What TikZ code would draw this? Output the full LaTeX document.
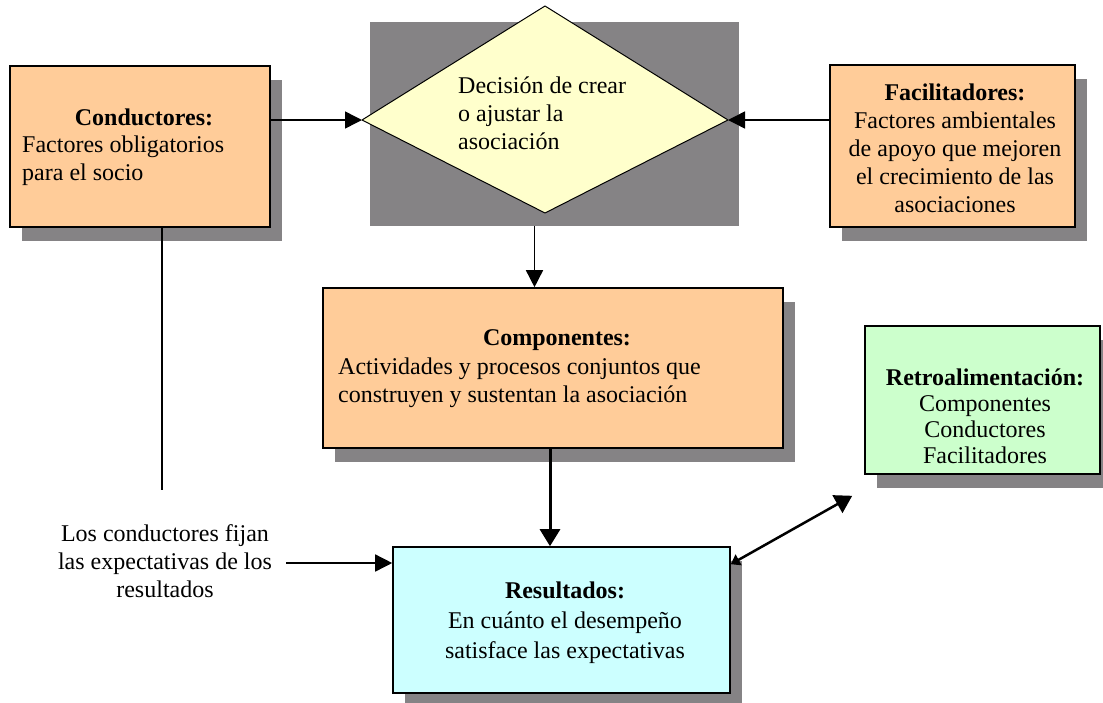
\documentclass[tikz,border=0pt]{standalone}
\usepackage{fontspec}
\setmainfont{Liberation Serif}
\usetikzlibrary{arrows.meta,shadows,calc}
\definecolor{orangebox}{HTML}{FFCC99}
\definecolor{yellowbox}{HTML}{FFFFCC}
\definecolor{cyanbox}{HTML}{CCFFFF}
\definecolor{greenbox}{HTML}{CCFFCC}
\definecolor{shadowgray}{HTML}{858385}
\tikzset{
  box/.style={draw=black, line width=1.6pt, rectangle, inner sep=0pt,
    general shadow={fill=shadowgray, shadow xshift=12pt, shadow yshift=-14pt}},
  txt/.style={inner sep=0pt, font=\fontsize{24}{28}\selectfont},
  arr/.style={line width=1.5pt, -{Triangle[length=17pt,width=17pt]}},
  thickarr/.style={line width=3pt, -{Triangle[length=17pt,width=20pt]}},
  dblarr/.style={line width=2.5pt, {Triangle[length=9pt,width=12pt]}-{Triangle[length=17pt,width=20pt]}},
}
\begin{document}
\begin{tikzpicture}[x=1pt,y=-1pt]
\useasboundingbox (0,0) rectangle (1103,702);
% gray background of decision
\node[fill=shadowgray, minimum width=369pt, minimum height=204pt, inner sep=0pt] (gray) at (554.5,124) {};
% diamond
\coordinate (dt) at (545,6);
\coordinate (dr) at (728,120);
\coordinate (db) at (545,213);
\coordinate (dl) at (362,120);
\filldraw[fill=yellowbox, draw=black, line width=1pt, line join=round] (dt) -- (dr) -- (db) -- (dl) -- cycle;
\node[txt, anchor=west, align=left] (dec) at (458,113) {Decisión de crear\\o ajustar la\\asociación};

% boxes
\node[box, fill=orangebox, minimum width=260pt, minimum height=161pt] (cond) at (140,146.5) {};
\node[box, fill=orangebox, minimum width=245pt, minimum height=162pt] (facil) at (952.5,146) {};
\node[box, fill=orangebox, minimum width=460pt, minimum height=160pt] (comp) at (553,368) {};
\node[box, fill=greenbox, minimum width=235pt, minimum height=148pt] (retro) at (982.5,400) {};
\node[box, fill=cyanbox, minimum width=337pt, minimum height=146pt] (result) at (561.5,620) {};

% texts
\node[txt, font=\fontsize{24}{28}\selectfont\bfseries] (condt) at (144,117) {Conductores:};
\node[txt, anchor=west, align=left] (condb) at (22,161) {Factores obligatorios\\para el socio};
\node[txt, align=center] (facilt) at (955,148) {\textbf{Facilitadores:}\\Factores ambientales\\de apoyo que mejoren\\el crecimiento de las\\asociaciones};
\node[txt, font=\fontsize{24}{28}\selectfont\bfseries] (compt) at (557,340) {Componentes:};
\node[txt, anchor=west, align=left] (compb) at (338,382.5) {Actividades y procesos conjuntos que\\construyen y sustentan la asociación};
\node[txt, align=center, font=\fontsize{24}{26}\selectfont] (retrot) at (985,416) {\textbf{Retroalimentación:}\\Componentes\\Conductores\\Facilitadores};
\node[txt, align=center, font=\fontsize{24}{30}\selectfont] (resultt) at (565,623) {\textbf{Resultados:}\\En cuánto el desempeño\\satisface las expectativas};
\node[txt, align=center] (note) at (165,561) {Los conductores fijan\\las expectativas de los\\resultados};

% connectors
\draw[arr] (cond.east |- dl) -- (dl);
\draw[arr] (facil.west |- dr) -- (dr);
\draw[arr] ([xshift=-20pt]gray.south) -- ([xshift=-20pt]gray.south |- comp.north);
\draw[thickarr] ([xshift=-3pt]comp.south) -- ([xshift=-3pt]comp.south |- result.north);
\coordinate (condend) at (162,490);
\draw[line width=1.5pt] (cond.south -| condend) -- (condend);
\draw[arr] ([xshift=14pt,yshift=-2pt]note.east) -- ([yshift=-2pt]result.west |- note.east);
\draw[dblarr] ([yshift=-18pt]result.north east) -- ([xshift=-12pt,yshift=-21pt]retro.south west);
\end{tikzpicture}
\end{document}
